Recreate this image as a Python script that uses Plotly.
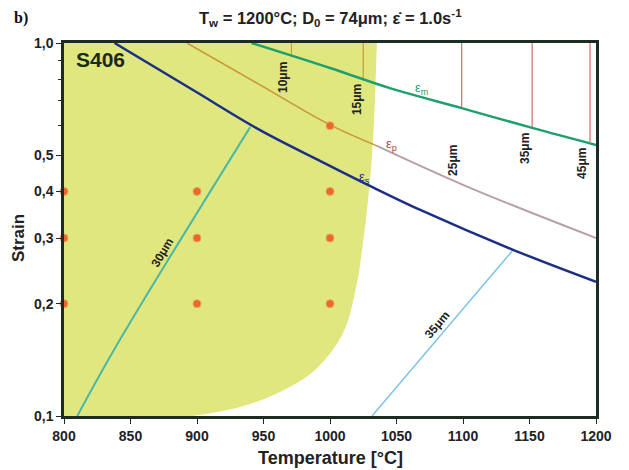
import plotly.graph_objects as go
import math

# ---------------- data ----------------
# epsilon_s (dark blue)
es_T = [838, 897, 947.4, 992.5, 1030, 1070, 1137.6, 1200]
es_s = [1.0, 0.748, 0.584, 0.483, 0.414, 0.354, 0.279, 0.229]
# epsilon_p (orange inside region, pinkish outside)
ep_T_a = [892.5, 947.4, 1000, 1035.3]
ep_s_a = [1.0, 0.772, 0.603, 0.530]
ep_T_b = [1035.3, 1105.3, 1200]
ep_s_b = [0.530, 0.409, 0.300]
# epsilon_m (green)
em_T = [941, 1000, 1045, 1099, 1152, 1200]
em_s = [1.0, 0.857, 0.757, 0.669, 0.592, 0.533]
# grain-size iso lines
g30_T = [810, 842, 940]
g30_s = [0.1, 0.16, 0.595]
g35_T = [1031.6, 1137]
g35_s = [0.1, 0.277]
# vertical grain-size lines (top 1.0 down to eps_m)
v_T = [971, 1025, 1099, 1152, 1195.5]
v_bot = [0.917, 0.796, 0.669, 0.592, 0.543]
v_lab = ["10μm", "15μm", "25μm", "35μm", "45μm"]
v_lab_T = [964.7, 1020.3, 1092.5, 1146.6, 1189.5]
v_lab_s = [0.806, 0.703, 0.483, 0.523, 0.474]
v_col = ["#cf9a3a", "#cf9a3a", "#d86a6a", "#d86a6a", "#d86a6a"]
# shaded region boundary (right edge, top to bottom)
reg_T = [1035.6, 1035.3, 1033.8, 1031.6, 1028.6, 1024.1, 1020.3, 1009.8, 988.7, 962.4, 932.3, 897, 870]
reg_s = [1.05, 1.0, 0.703, 0.501, 0.379, 0.2786, 0.2273, 0.1669, 0.1328, 0.1159, 0.1057, 0.1, 0.097]
# experimental points
pt_T = [800, 800, 800, 900, 900, 900, 1000, 1000, 1000, 1000]
pt_s = [0.4, 0.3, 0.2, 0.4, 0.3, 0.2, 0.6, 0.4, 0.3, 0.2]

y_ticks = [0.1, 0.2, 0.3, 0.4, 0.5, 1.0]
y_ticktext = ["0,1", "0,2", "0,3", "0,4", "0,5", "1,0"]
y_minor = [0.6, 0.7, 0.8, 0.9]
x_ticks = [800, 850, 900, 950, 1000, 1050, 1100, 1150, 1200]

FONT = "Liberation Sans"
DARK = "#1d2b22"
TXT = "#222222"

fig = go.Figure()

# shaded region (filled horizontally to the left)
fig.add_trace(go.Scatter(x=reg_T, y=reg_s, fill="tozerox", mode="lines",
                         line_shape="spline",
                         line=dict(width=0, color="#dfe77e"),
                         fillcolor="#dfe77e", hoverinfo="skip"))

# vertical grain lines
for T, b, c in zip(v_T, v_bot, v_col):
    fig.add_trace(go.Scatter(x=[T, T], y=[1.0, b], mode="lines",
                             line=dict(color=c, width=1.2)))

# iso grain lines
fig.add_trace(go.Scatter(x=g30_T, y=g30_s, mode="lines", line_shape="spline",
                         line=dict(color="#4cb8a8", width=2)))
fig.add_trace(go.Scatter(x=g35_T, y=g35_s, mode="lines",
                         line=dict(color="#7cc4e4", width=1.5)))

# eps lines
fig.add_trace(go.Scatter(x=ep_T_a, y=ep_s_a, mode="lines", line_shape="spline",
                         line=dict(color="#c99536", width=1.5)))
fig.add_trace(go.Scatter(x=ep_T_b, y=ep_s_b, mode="lines", line_shape="spline",
                         line=dict(color="#b9a0a4", width=2)))
fig.add_trace(go.Scatter(x=em_T, y=em_s, mode="lines", line_shape="spline",
                         line=dict(color="#1fa06a", width=2.5)))
fig.add_trace(go.Scatter(x=es_T, y=es_s, mode="lines", line_shape="spline",
                         line=dict(color="#1c2f84", width=2.5)))

# points
fig.add_trace(go.Scatter(x=pt_T, y=pt_s, mode="markers", cliponaxis=False,
                         marker=dict(color="#e8692a", size=8,
                                     line=dict(color="#f0a060", width=1))))


def lab(x, y, text, size=12, color=TXT, angle=0, xref="x", yref="y"):
    if yref == "y":
        y = math.log10(y)
    return dict(x=x, y=y, xref=xref, yref=yref, text=text, textangle=angle,
                xanchor="center", yanchor="middle", showarrow=False,
                font=dict(family=FONT, size=size, color=color))


ann = []
for t, T, s in zip(v_lab, v_lab_T, v_lab_s):
    ann.append(lab(T, s, "<b>" + t + "</b>", angle=-90))
ann.append(lab(873.7, 0.2735, "<b>30μm</b>", angle=-59))
ann.append(lab(1080.5, 0.175, "<b>35μm</b>", angle=-50))
ann.append(lab(1069, 0.757, "ε<sub>m</sub>", size=13, color="#1fa06a"))
ann.append(lab(1046.6, 0.533, "ε<sub>p</sub>", size=13, color="#a84848"))
ann.append(lab(1026.3, 0.437, "ε<sub>s</sub>", size=13, color="#1c2f84"))
ann.append(lab(0.0677, 0.957, "<b>S406</b>", size=21, color="#1a2a1a",
               xref="paper", yref="paper"))
ann.append(lab(0.5, 1.066,
               "<b>T<sub>w</sub> = 1200°C; D<sub>0</sub> = 74μm; ε̇ = 1.0s<sup>-1</sup></b>",
               size=16.5, xref="paper", yref="paper"))
b_lab = lab(-0.0808, 1.066, "<b>b)</b>", size=16, color="#111111",
            xref="paper", yref="paper")
b_lab["font"]["family"] = "Liberation Serif"
ann.append(b_lab)
# axis titles
ann.append(lab(0.5, -0.1126, "<b>Temperature [°C]</b>", size=18,
               xref="paper", yref="paper"))
ann.append(lab(-0.0865, 0.477, "<b>Strain</b>", size=17, angle=-90,
               xref="paper", yref="paper"))

fig.update_layout(
    width=621, height=462,
    margin=dict(l=56, r=33, t=35, b=54, autoexpand=False),
    paper_bgcolor="white", plot_bgcolor="white",
    showlegend=False,
    annotations=ann,
    xaxis=dict(range=[800, 1200], tickvals=x_ticks, showgrid=False, zeroline=False,
               automargin=False,
               showline=True, mirror=True, linecolor=DARK, linewidth=2.5,
               ticks="outside", ticklen=5, tickcolor=DARK,
               tickfont=dict(family=FONT, size=14, color=TXT, weight="bold")),
    yaxis=dict(type="log", range=[-1, 0], tickvals=y_ticks, ticktext=y_ticktext,
               showgrid=False, zeroline=False, automargin=False,
               showline=True, mirror=True, linecolor=DARK, linewidth=2.5,
               ticks="outside", ticklen=5, tickcolor=DARK,
               minor=dict(tickvals=y_minor, ticks="outside", ticklen=3,
                          tickcolor=DARK, showgrid=False),
               tickfont=dict(family=FONT, size=14, color=TXT, weight="bold")),
)

fig.write_html("out.html")
